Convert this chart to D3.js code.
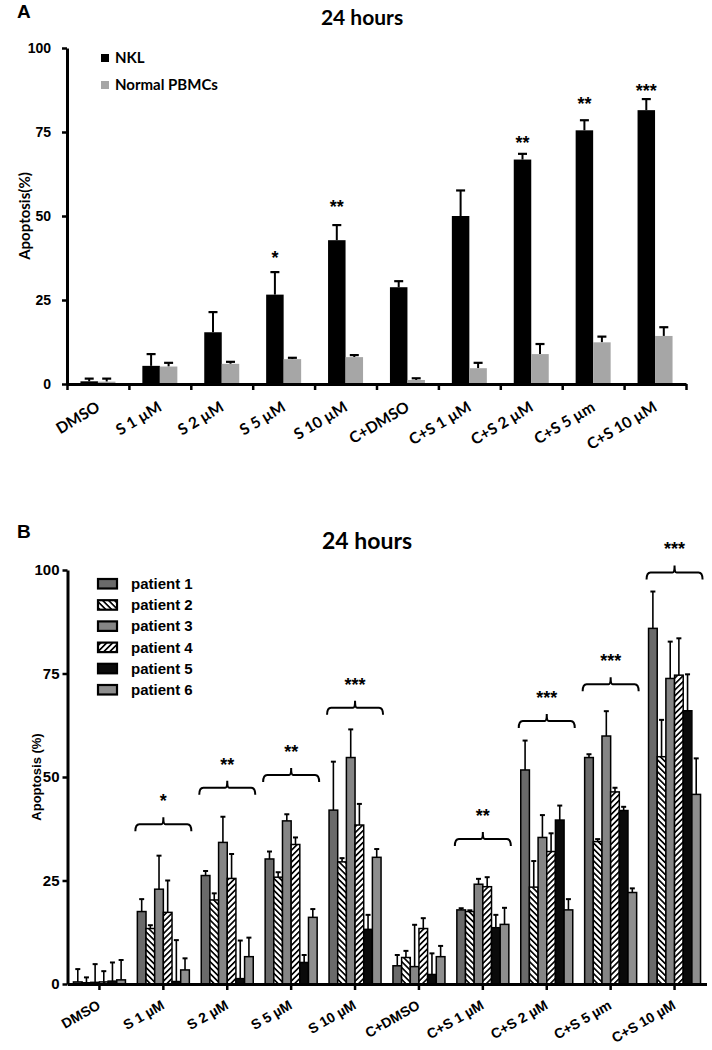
<!DOCTYPE html>
<html><head><meta charset="utf-8">
<script src="https://cdn.jsdelivr.net/npm/d3@7"></script>
<style>
html,body{margin:0;padding:0;background:#fff;}
svg{display:block;}
.calib{font-family:Lato,"Open Sans",sans-serif;font-weight:700;}
.arial{font-family:"Liberation Sans",Arial,sans-serif;font-weight:700;}
</style></head><body>
<svg id="chart" width="712" height="1050"></svg>
<script>
// ---------- data ----------
const categories = ["DMSO","S 1 µM","S 2 µM","S 5 µM","S 10 µM","C+DMSO","C+S 1 µM","C+S 2 µM","C+S 5 µm","C+S 10 µM"];
const yTicks = [0,25,50,75,100];

// Panel A
const nklMean  = [0.8, 5.4, 15.4, 26.6, 42.8, 28.8, 50.0, 66.8, 75.5, 81.5];
const nklErr   = [0.8, 3.5, 6.0, 6.7, 4.5, 1.8, 7.6, 1.7, 3.0, 3.3];
const pbmcMean = [0.7, 5.2, 6.0, 7.4, 8.0, 1.2, 4.7, 8.9, 12.4, 14.3];
const pbmcErr  = [0.9, 1.1, 0.6, 0.4, 0.6, 0.5, 1.6, 3.0, 1.7, 2.6];
const starsA     = ["", "", "", "*", "**", "", "", "**", "**", "***"];
const starLevelA = [null, null, null, 38.6, 54, null, null, 72.9, 84.4, 88.5];
const seriesA = ["NKL", "Normal PBMCs"];

// Panel B
const patients = ["patient 1","patient 2","patient 3","patient 4","patient 5","patient 6"];
const p1Mean = [0.5, 17.5, 26.2, 30.2, 42.0, 4.4, 17.9, 51.7, 54.7, 85.9];
const p1Err  = [3.1, 3.0, 1.1, 1.8, 11.7, 2.6, 0.4, 7.1, 0.8, 8.9];
const p2Mean = [0.3, 13.4, 20.3, 25.8, 29.5, 6.4, 17.5, 23.4, 34.4, 54.9];
const p2Err  = [1.3, 0.8, 1.6, 1.2, 0.9, 1.6, 0.3, 6.3, 0.6, 8.9];
const p3Mean = [0.4, 22.9, 34.2, 39.4, 54.7, 4.2, 24.1, 35.4, 59.9, 73.8];
const p3Err  = [4.4, 8.1, 6.2, 1.6, 6.8, 10.1, 1.3, 5.4, 6.0, 8.9];
const p4Mean = [0.5, 17.3, 25.5, 33.7, 38.4, 13.4, 23.5, 32.0, 46.4, 74.6];
const p4Err  = [2.6, 7.7, 5.9, 1.7, 5.1, 2.5, 2.3, 4.4, 1.0, 8.9];
const p5Mean = [0.7, 0.6, 1.3, 5.2, 13.2, 2.3, 13.6, 39.6, 41.9, 66.0];
const p5Err  = [4.5, 10.0, 9.2, 1.8, 3.5, 5.1, 3.1, 3.5, 0.9, 8.8];
const p6Mean = [1.0, 3.4, 6.6, 16.1, 30.6, 6.6, 14.4, 17.9, 22.1, 45.8];
const p6Err  = [4.8, 2.8, 4.6, 2.0, 2.0, 2.6, 4.0, 2.6, 1.0, 8.7];
const starsB        = ["", "*", "**", "**", "***", "", "**", "***", "***", "***"];
const bracketLevelB = [null, 38.6, 47.4, 50.5, 66.7, null, 35, 63.5, 72.4, 99.4];

// ---------- drawing ----------
const svg = d3.select("#chart");
const defs = svg.append("defs");
function hatch(id, angle){
  const p = defs.append("pattern").attr("id", id).attr("patternUnits","userSpaceOnUse")
    .attr("width", 4.2).attr("height", 4.2).attr("patternTransform", `rotate(${angle})`);
  p.append("rect").attr("width",4.2).attr("height",4.2).attr("fill","#fff");
  p.append("line").attr("x1",0.8).attr("y1",0).attr("x2",0.8).attr("y2",4.2)
    .attr("stroke","#000").attr("stroke-width",1.7);
}
hatch("hatchBack", -45);
hatch("hatchFwd", 45);
const patientFill = ["#6a6a6a", "url(#hatchBack)", "#858585", "url(#hatchFwd)", "#0a0a0a", "#8e8e8e"];

// ===== Panel A =====
const xA = d3.scaleBand().domain(categories).range([67, 686]);
const yA = d3.scaleLinear().domain([0, 100]).range([384, 48]);
const sA = d3.scaleBand().domain(seriesA).range([-17.5, 17.5]);
const colA = d3.scaleOrdinal().domain(seriesA).range(["#000000", "#a6a6a6"]);
const gA = svg.append("g");

svg.append("text").attr("class","arial").attr("x",17).attr("y",18).attr("font-size",19).text("A");
svg.append("text").attr("class","calib").attr("x",362).attr("y",25).attr("text-anchor","middle")
  .attr("font-size",21).text("24 hours");

const rowsA = categories.map((c,i)=>({c, vals:[
  {s:seriesA[0], m:nklMean[i], e:nklErr[i]},
  {s:seriesA[1], m:pbmcMean[i], e:pbmcErr[i]}]}));
const grpA = gA.selectAll("g.cat").data(rowsA).join("g")
  .attr("transform", d=>`translate(${xA(d.c)+xA.bandwidth()/2},0)`);
grpA.selectAll("line.err").data(d=>d.vals).join("line")
  .attr("x1", d=>sA(d.s)+sA.bandwidth()/2).attr("x2", d=>sA(d.s)+sA.bandwidth()/2)
  .attr("y1", d=>yA(d.m)).attr("y2", d=>yA(d.m+d.e)).attr("stroke","#000").attr("stroke-width",2);
grpA.selectAll("line.cap").data(d=>d.vals).join("line")
  .attr("x1", d=>sA(d.s)+sA.bandwidth()/2-4.5).attr("x2", d=>sA(d.s)+sA.bandwidth()/2+4.5)
  .attr("y1", d=>yA(d.m+d.e)).attr("y2", d=>yA(d.m+d.e)).attr("stroke","#000").attr("stroke-width",2.2);
grpA.selectAll("rect").data(d=>d.vals).join("rect")
  .attr("x", d=>sA(d.s)).attr("width", sA.bandwidth())
  .attr("y", d=>yA(d.m)).attr("height", d=>yA(0)-yA(d.m)).attr("fill", d=>colA(d.s));
gA.selectAll("text.star").data(categories.map((c,i)=>({c, s:starsA[i], l:starLevelA[i]})).filter(d=>d.s))
  .join("text").attr("class","arial").attr("text-anchor","middle").attr("font-size",18)
  .attr("x", d=>xA(d.c)+xA.bandwidth()/2-8.75).attr("y", d=>yA(d.l)+10).text(d=>d.s);

// axes A
const yAxisA = gA.append("g").attr("transform","translate(67,0)")
  .call(d3.axisLeft(yA).tickValues(yTicks).tickSize(5).tickSizeOuter(0).tickPadding(11));
const idxA = d3.scaleLinear().domain([0,10]).range([67,686]);
const xAxisA = gA.append("g").attr("transform","translate(0,384)")
  .call(d3.axisBottom(idxA).tickValues(d3.range(11)).tickSize(6).tickSizeOuter(0).tickFormat(""));
[yAxisA, xAxisA].forEach(a=>{
  a.select(".domain").attr("stroke","#000").attr("stroke-width",3);
  a.selectAll(".tick line").attr("stroke","#000").attr("stroke-width",2.5);
});
yAxisA.selectAll("text").attr("class","arial").attr("font-size",14).attr("fill","#000");
gA.selectAll("text.xlab").data(categories).join("text").attr("class","calib")
  .attr("font-size",15.5).attr("text-anchor","end")
  .attr("transform", d=>`translate(${xA(d)+xA.bandwidth()/2+3},${410}) rotate(-31)`).text(d=>d);
svg.append("text").attr("class","calib").attr("font-size",15).attr("text-anchor","middle")
  .attr("transform","translate(30,216) rotate(-90)").text("Apoptosis(%)");
// legend A
const legA = svg.append("g");
seriesA.forEach((s,i)=>{
  legA.append("rect").attr("x",101).attr("y",54+i*27).attr("width",8).attr("height",8).attr("fill",colA(s));
  legA.append("text").attr("class","calib").attr("x",115).attr("y",63+i*27).attr("font-size",15).text(s);
});

// ===== Panel B =====
const xB = d3.scaleBand().domain(categories).range([67.5, 706.5]);
const yB = d3.scaleLinear().domain([0,100]).range([984, 570]);
const sB = d3.scaleBand().domain(patients).range([-26, 26]);
const meansB = [p1Mean,p2Mean,p3Mean,p4Mean,p5Mean,p6Mean];
const errsB  = [p1Err,p2Err,p3Err,p4Err,p5Err,p6Err];
const gB = svg.append("g");

svg.append("text").attr("class","arial").attr("x",17).attr("y",538).attr("font-size",19).text("B");
svg.append("text").attr("class","calib").attr("x",367).attr("y",549).attr("text-anchor","middle")
  .attr("font-size",23).text("24 hours");

const rowsB = categories.map((c,i)=>({c, vals: patients.map((p,j)=>({p, j, m:meansB[j][i], e:errsB[j][i]}))}));
const grpB = gB.selectAll("g.cat").data(rowsB).join("g")
  .attr("transform", d=>`translate(${xB(d.c)+xB.bandwidth()/2},0)`);
grpB.selectAll("line.err").data(d=>d.vals).join("line")
  .attr("x1", d=>sB(d.p)+sB.bandwidth()/2).attr("x2", d=>sB(d.p)+sB.bandwidth()/2)
  .attr("y1", d=>yB(d.m)).attr("y2", d=>yB(d.m+d.e)).attr("stroke","#000").attr("stroke-width",1.6);
grpB.selectAll("line.cap").data(d=>d.vals).join("line")
  .attr("x1", d=>sB(d.p)+sB.bandwidth()/2-2.5).attr("x2", d=>sB(d.p)+sB.bandwidth()/2+2.5)
  .attr("y1", d=>yB(d.m+d.e)).attr("y2", d=>yB(d.m+d.e)).attr("stroke","#000").attr("stroke-width",2);
grpB.selectAll("rect").data(d=>d.vals).join("rect")
  .attr("x", d=>sB(d.p)).attr("width", sB.bandwidth())
  .attr("y", d=>yB(d.m)).attr("height", d=>yB(0)-yB(d.m))
  .attr("fill", d=>patientFill[d.j]).attr("stroke","#000").attr("stroke-width",1.5);

// brackets and stars
const brk = categories.map((c,i)=>({c, s:starsB[i], l:bracketLevelB[i]})).filter(d=>d.s);
gB.selectAll("path.brk").data(brk).join("path")
  .attr("fill","none").attr("stroke","#000").attr("stroke-width",2)
  .attr("d", d=>{
    const xc = xB(d.c)+xB.bandwidth()/2, x0 = xc-28, x1 = xc+28, y = yB(d.l);
    return `M${x0},${y+7} Q${x0},${y} ${x0+4},${y} L${xc-2},${y} Q${xc},${y} ${xc},${y-7} Q${xc},${y} ${xc+2},${y} L${x1-4},${y} Q${x1},${y} ${x1},${y+7}`;
  });
gB.selectAll("text.star").data(brk).join("text").attr("class","arial").attr("text-anchor","middle")
  .attr("font-size",18).attr("x", d=>xB(d.c)+xB.bandwidth()/2).attr("y", d=>yB(d.l)-17).text(d=>d.s);

// axes B
const yAxisB = gB.append("g").attr("transform","translate(67.5,0)")
  .call(d3.axisLeft(yB).tickValues(yTicks).tickSize(5).tickSizeOuter(0).tickPadding(3));
const xAxisB = gB.append("g").attr("transform","translate(0,984)")
  .call(d3.axisBottom(xB).tickSize(6).tickSizeOuter(0).tickFormat(""));
[yAxisB, xAxisB].forEach(a=>{
  a.select(".domain").attr("stroke","#000").attr("stroke-width",3);
  a.selectAll(".tick line").attr("stroke","#000").attr("stroke-width",2.5);
});
yAxisB.selectAll("text").attr("class","arial").attr("font-size",15).attr("fill","#000");
gB.selectAll("text.xlab").data(categories).join("text").attr("class","arial")
  .attr("font-size",14).attr("text-anchor","end")
  .attr("transform", d=>`translate(${xB(d)+xB.bandwidth()/2+2},${1008}) rotate(-30)`).text(d=>d);
svg.append("text").attr("class","arial").attr("font-size",13).attr("text-anchor","middle")
  .attr("transform","translate(41,777) rotate(-90)").text("Apoptosis (%)");
// legend B
const legB = svg.append("g");
patients.forEach((p,j)=>{
  legB.append("rect").attr("x",98).attr("y",579+j*21.2).attr("width",19).attr("height",9.5)
    .attr("fill",patientFill[j]).attr("stroke","#000").attr("stroke-width",2.2);
  legB.append("text").attr("class","arial").attr("x",131).attr("y",589+j*21.2).attr("font-size",15).text(p);
});
</script>
</body></html>
